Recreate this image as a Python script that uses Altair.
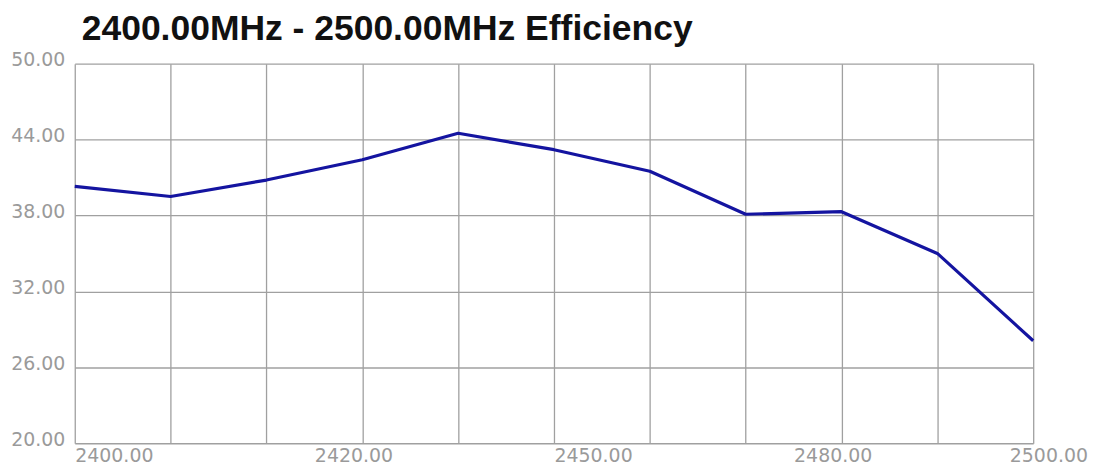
import altair as alt
import pandas as pd

# Data
freq_mhz = [2400, 2410, 2420, 2430, 2440, 2450, 2460, 2470, 2480, 2490, 2500]
efficiency = [40.3, 39.5, 40.8, 42.4, 44.5, 43.2, 41.5, 38.1, 38.3, 35.0, 28.1]

x_label_values = [2400, 2425, 2450, 2475, 2500]
x_label_texts = ["2400.00", "2420.00", "2450.00", "2480.00", "2500.00"]
x_grid_values = list(range(2400, 2501, 5))
y_tick_values = [20, 26, 32, 38, 44, 50]

title_text = "2400.00MHz - 2500.00MHz Efficiency"

df = pd.DataFrame({"freq": freq_mhz, "eff": efficiency})

label_map = "{" + ", ".join(f"'{v}': '{t}'" for v, t in zip(x_label_values, x_label_texts)) + "}"
label_expr = f"({label_map})[toString(datum.value)] || ''"

GRID = "#a0a0a0"
LABEL = "#9a9a9a"

chart = (
    alt.Chart(df)
    .mark_line(color="#1414a0", strokeWidth=3.2, strokeJoin="round")
    .encode(
        x=alt.X(
            "freq:Q",
            scale=alt.Scale(domain=[2400, 2500], nice=False, zero=False),
            axis=alt.Axis(
                title=None,
                values=x_grid_values,
                labelExpr=label_expr,
                labelOverlap=False,
                labelBound=False,
                labelFlush=False,
                labelAlign="left",
                labelBaseline="top",
                labelPadding=3,
                labelFont="DejaVu Sans",
                labelFontSize=19,
                labelColor=LABEL,
                labelOffset={"condition": {"test": "datum.value == 2500", "value": -24}, "value": 0},
                ticks=False,
                domain=False,
                grid=True,
                gridColor=GRID,
                gridWidth=1.3,
                gridOpacity={"condition": {"test": "datum.value % 10 == 0", "value": 1}, "value": 0},
            ),
        ),
        y=alt.Y(
            "eff:Q",
            scale=alt.Scale(domain=[20, 50], nice=False, zero=False),
            axis=alt.Axis(
                title=None,
                values=y_tick_values,
                format=".2f",
                labelFont="DejaVu Sans",
                labelFontSize=19,
                labelColor=LABEL,
                labelPadding=10,
                labelBaseline="middle",
                labelOffset=-4,
                labelOverlap=False,
                labelBound=False,
                labelFlush=False,
                ticks=False,
                domain=False,
                grid=True,
                gridColor=GRID,
                gridWidth=1.3,
            ),
        ),
    )
    .properties(
        width=962,
        height=381,
        title=alt.TitleParams(
            text=title_text,
            font="Liberation Sans",
            fontSize=35.6,
            fontWeight="bold",
            color="#111111",
            anchor="start",
            frame="group",
            baseline="alphabetic",
            dx=7,
            dy=35,
            offset=10,
        ),
        autosize=alt.AutoSizeParams(type="none"),
        padding={"left": 67, "top": 55, "right": 55, "bottom": 26},
        background="white",
    )
    .configure_view(stroke="transparent")
)

chart.save("out.html", embed_options={"renderer": "svg", "actions": False})
